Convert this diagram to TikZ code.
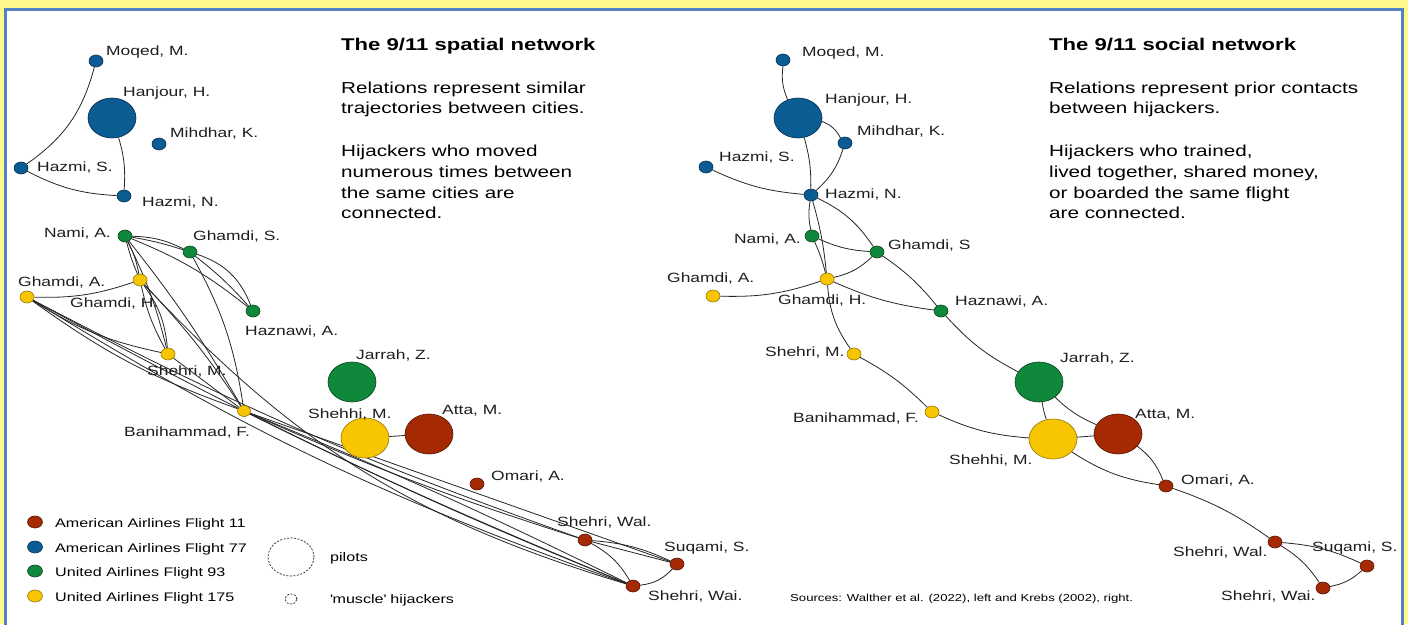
\documentclass[tikz,border=0pt]{standalone}
\usepackage{fontspec}
\setmainfont{Liberation Sans}[FakeStretch=1.3]
\usetikzlibrary{shapes.geometric,backgrounds}

\definecolor{paper}{RGB}{255,249,140}
\definecolor{frame}{RGB}{84,128,196}
\definecolor{aa11}{RGB}{165,42,4}
\definecolor{aa77}{RGB}{12,92,148}
\definecolor{ua93}{RGB}{16,136,60}
\definecolor{ua175}{RGB}{247,198,0}
\definecolor{ink}{RGB}{30,30,30}

\newcommand\lblfont{\fontsize{13.4}{16}\selectfont}
\newcommand\bodyfont{\fontsize{15.9}{19}\selectfont}
\newcommand\headfont{\fontsize{17}{20}\selectfont\bfseries}
\newcommand\keyfont{\fontsize{12.4}{15}\selectfont}
\newcommand\srcfont{\fontsize{10.1}{12}\selectfont}

\tikzset{
  hj/.style={ellipse, minimum width=14pt, minimum height=12pt, inner sep=0pt, line width=0.6pt},
  pilot/.style={hj, minimum width=48pt, minimum height=40pt},
  f11/.style={fill=aa11, draw=aa11!50!black},
  f77/.style={fill=aa77, draw=aa77!50!black},
  f93/.style={fill=ua93, draw=ua93!50!black},
  f175/.style={fill=ua175, draw=ua175!60!black},
  lbl/.style={anchor=base west, inner sep=0pt, font=\lblfont, text=ink},
  lblr/.style={lbl, anchor=base east},
  txt/.style={anchor=base west, inner sep=0pt, font=\bodyfont, text=black},
  head/.style={anchor=base west, inner sep=0pt, font=\headfont, text=black},
  key/.style={anchor=base west, inner sep=0pt, font=\keyfont, text=black},
  edge/.style={line width=0.8pt, draw=black!85},
  keyring/.style={ellipse, inner sep=0pt, draw=black!85, dash pattern=on 2pt off 1.5pt, line width=0.7pt},
}

\begin{document}
\begin{tikzpicture}[x=1pt,y=-1pt]
\useasboundingbox (0,0) rectangle (1408,624);

% ---------- spatial network (left) ----------
\node[hj,f77]    (Lmoq)   at (96,61)   {};
\node[pilot,f77] (Lhan)   at (112,118) {};
\node[hj,f77]    (Lmih)   at (159,144) {};
\node[hj,f77]    (LhazS)  at (21,168)  {};
\node[hj,f77]    (LhazN)  at (124,196) {};
\node[hj,f93]    (Lnami)  at (125,236) {};
\node[hj,f93]    (LghS)   at (190,252) {};
\node[hj,f93]    (Lhaz)   at (253,311) {};
\node[hj,f175]   (LghA)   at (27,297)  {};
\node[hj,f175]   (LghH)   at (140,280) {};
\node[hj,f175]   (LshM)   at (168,354) {};
\node[hj,f175,minimum width=13pt,minimum height=11pt] (Lban) at (244,411) {};
\node[pilot,f93] (Ljar)   at (352,382) {};
\node[pilot,f175] (Lshe)  at (365,438) {};
\node[pilot,f11] (Latta)  at (429,434) {};
\node[hj,f11]    (Lomari) at (477,484) {};
\node[hj,f11]    (LwalA)  at (585,540) {};
\node[hj,f11]    (Lsuq)   at (677,564) {};
\node[hj,f11]    (LwalB)  at (633,586) {};

\node[lbl]  (tLmoq)   at (106,55)  {Moqed, M.};
\node[lbl]  (tLhan)   at (123,96)  {Hanjour, H.};
\node[lbl]  (tLmih)   at (170,137) {Mihdhar, K.};
\node[lbl]  (tLhazS)  at (37,171)  {Hazmi, S.};
\node[lbl]  (tLhazN)  at (142,206) {Hazmi, N.};
\node[lblr] (tLnami)  at (111,237) {Nami, A.};
\node[lbl]  (tLghS)   at (193,240) {Ghamdi, S.};
\node[lbl]  (tLghA)   at (18,286)  {Ghamdi, A.};
\node[lbl]  (tLghH)   at (70,307)  {Ghamdi, H.};
\node[lbl]  (tLhaz)   at (245,335) {Haznawi, A.};
\node[lbl]  (tLshM)   at (147,375) {Shehri, M.};
\node[lbl]  (tLban)   at (124,436) {Banihammad, F.};
\node[lbl]  (tLjar)   at (356,359) {Jarrah, Z.};
\node[lbl]  (tLshe)   at (308,418) {Shehhi, M.};
\node[lbl]  (tLatta)  at (442,414) {Atta, M.};
\node[lbl]  (tLomari) at (491,480) {Omari, A.};
\node[lbl]  (tLwalA)  at (557,526) {Shehri, Wal.};
\node[lbl]  (tLsuq)   at (664,551) {Suqami, S.};
\node[lbl]  (tLwalB)  at (648,600) {Shehri, Wai.};

% ---------- social network (right) ----------
\node[hj,f77]    (Rmoq)   at (783,60)   {};
\node[pilot,f77] (Rhan)   at (798,118)  {};
\node[hj,f77]    (Rmih)   at (845,143)  {};
\node[hj,f77]    (RhazS)  at (706,167)  {};
\node[hj,f77]    (RhazN)  at (811,195)  {};
\node[hj,f93]    (Rnami)  at (812,236)  {};
\node[hj,f93]    (RghS)   at (877,252)  {};
\node[hj,f175]   (RghA)   at (713,296)  {};
\node[hj,f175]   (RghH)   at (827,279)  {};
\node[hj,f93]    (Rhaz)   at (941,311)  {};
\node[hj,f175]   (RshM)   at (854,354)  {};
\node[hj,f175]   (Rban)   at (932,412)  {};
\node[pilot,f93] (Rjar)   at (1039,382) {};
\node[pilot,f175] (Rshe)  at (1053,439) {};
\node[pilot,f11] (Ratta)  at (1118,434) {};
\node[hj,f11]    (Romari) at (1166,486) {};
\node[hj,f11]    (RwalA)  at (1275,542) {};
\node[hj,f11]    (Rsuq)   at (1367,566) {};
\node[hj,f11]    (RwalB)  at (1323,588) {};

\node[lbl]  (tRmoq)   at (802,56)   {Moqed, M.};
\node[lbl]  (tRhan)   at (825,103)  {Hanjour, H.};
\node[lbl]  (tRmih)   at (857,135)  {Mihdhar, K.};
\node[lbl]  (tRhazS)  at (719,161)  {Hazmi, S.};
\node[lbl]  (tRhazN)  at (825,198)  {Hazmi, N.};
\node[lblr] (tRnami)  at (801,243)  {Nami, A.};
\node[lbl]  (tRghS)   at (888,249)  {Ghamdi, S};
\node[lbl]  (tRghA)   at (667,282)  {Ghamdi, A.};
\node[lbl]  (tRghH)   at (778,304)  {Ghamdi, H.};
\node[lbl]  (tRhaz)   at (955,305)  {Haznawi, A.};
\node[lbl]  (tRshM)   at (765,356)  {Shehri, M.};
\node[lbl]  (tRban)   at (793,422)  {Banihammad, F.};
\node[lbl]  (tRjar)   at (1060,362) {Jarrah, Z.};
\node[lbl]  (tRshe)   at (949,464)  {Shehhi, M.};
\node[lbl]  (tRatta)  at (1135,418) {Atta, M.};
\node[lbl]  (tRomari) at (1181,484) {Omari, A.};
\node[lbl]  (tRwalA)  at (1173,556) {Shehri, Wal.};
\node[lbl]  (tRsuq)   at (1312,551) {Suqami, S.};
\node[lbl]  (tRwalB)  at (1221,600) {Shehri, Wai.};

% ---------- headings and notes ----------
\node[head] (hL)  at (341,50)  {The 9/11 spatial network};
\node[txt]  (hL1) at (341,93)  {Relations represent similar};
\node[txt]  (hL2) at (341,113) {trajectories between cities.};
\node[txt]  (hL3) at (341,156) {Hijackers who moved};
\node[txt]  (hL4) at (341,177) {numerous times between};
\node[txt]  (hL5) at (341,198) {the same cities are};
\node[txt]  (hL6) at (341,218) {connected.};

\node[head] (hR)  at (1049,50)  {The 9/11 social network};
\node[txt]  (hR1) at (1049,93)  {Relations represent prior contacts};
\node[txt]  (hR2) at (1049,113) {between hijackers.};
\node[txt]  (hR3) at (1049,156) {Hijackers who trained,};
\node[txt]  (hR4) at (1049,177) {lived together, shared money,};
\node[txt]  (hR5) at (1049,198) {or boarded the same flight};
\node[txt]  (hR6) at (1049,218) {are connected.};

\node[anchor=base west, inner sep=0pt, font=\srcfont] (src) at (790,601)
  {Sources: Walther et al. (2022), left and Krebs (2002), right.};

% ---------- legend ----------
\node[hj,f11,minimum width=15pt]  (k11)  at (35,522) {};
\node[hj,f77,minimum width=15pt]  (k77)  at (35,547) {};
\node[hj,f93,minimum width=15pt]  (k93)  at (35,571) {};
\node[hj,f175,minimum width=15pt] (k175) at (35,596) {};
\node[key] (tk11)  at (55,527) {American Airlines Flight 11};
\node[key] (tk77)  at (55,552) {American Airlines Flight 77};
\node[key] (tk93)  at (55,576) {United Airlines Flight 93};
\node[key] (tk175) at (55,601) {United Airlines Flight 175};
\node[keyring, minimum width=46pt, minimum height=38pt] (kpil) at (291,557) {};
\node[keyring, minimum width=12pt, minimum height=10pt] (kmus) at (291,599) {};
\node[key] (tkpil) at (330,561) {pilots};
\node[key] (tkmus) at (330,603) {\textquotesingle muscle\textquotesingle{} hijackers};

\begin{pgfonlayer}{background}
  % page and frame
  \fill[paper] (0,0) rectangle (1408,624);
  \draw[frame, fill=white, line width=3pt] (5.5,9.5) rectangle (1402.5,640);

  % spatial links
  \draw[edge] (Lmoq) to[bend left=20] (LhazS);
  \draw[edge] (LhazS) to[bend right=12] (LhazN);
  \draw[edge] (Lhan) to[bend left=10] (LhazN);
  \draw[edge] (Lnami) to[bend left=12] (LghS);
  \draw[edge] (Lnami) to[bend left=4] (LghS);
  \draw[edge] (Lnami) to[bend left=8] (Lhaz);
  \draw[edge] (LghS) to[bend left=25] (Lhaz);
  \draw[edge] (LghS) to[bend left=5] (Lhaz);
  \draw[edge] (LghS) to[bend left=10] (Lban);
  \draw[edge] (Lnami) to[bend left=8] (LghH);
  \draw[edge] (Lnami) to[bend right=4] (LghH);
  \draw[edge] (Lnami) to[bend left=6] (LshM);
  \draw[edge] (Lnami) to[bend left=4] (Lban);
  \draw[edge] (LghA) to[bend right=10] (LghH);
  \draw[edge] (LghA) to[bend right=10] (LshM);
  \draw[edge] (LghA) to[bend right=8] (Lban);
  \draw[edge] (LghA) to[bend right=6] (LwalB);
  \draw[edge] (LghA) to[bend right=3] (LwalB);
  \draw[edge] (LghA) to[bend right=4] (LwalA);
  \draw[edge] (LghH) to[bend left=15] (LshM);
  \draw[edge] (LghH) to[bend right=8] (LshM);
  \draw[edge] (LghH) to[bend left=5] (Lban);
  \draw[edge] (LghH) to[bend right=15] (LwalB);
  \draw[edge] (LshM) to (Lban);
  \draw[edge] (Lban) to[bend right=3] (LwalA);
  \draw[edge] (Lban) to[bend left=2] (LwalB);
  \draw[edge] (Lban) to[bend right=2] (LwalB);
  \draw[edge] (Lban) to (Lsuq);
  \draw[edge] (LwalA) to[bend left=10] (Lsuq);
  \draw[edge] (LwalA) to (Lsuq);
  \draw[edge] (LwalA) to[bend left=15] (LwalB);
  \draw[edge] (Lsuq) to[bend left=20] (LwalB);
  \draw[edge] (Lshe) to (Latta);

  % social links
  \draw[edge] (Rmoq) to[bend right=15] (Rhan);
  \draw[edge] (Rhan) to[bend left=20] (Rmih);
  \draw[edge] (Rhan) to[bend left=8] (RhazN);
  \draw[edge] (Rmih) to[bend left=15] (RhazN);
  \draw[edge] (RhazS) to[bend right=10] (RhazN);
  \draw[edge] (RhazN) to[bend right=10] (Rnami);
  \draw[edge] (RhazN) to[bend left=5] (RghH);
  \draw[edge] (RhazN) to[bend left=15] (RghS);
  \draw[edge] (Rnami) to[bend right=10] (RghS);
  \draw[edge] (Rnami) to[bend left=5] (RghH);
  \draw[edge] (RghS) to[bend left=15] (RghH);
  \draw[edge] (RghA) to[bend right=10] (RghH);
  \draw[edge] (RghH) to[bend right=8] (Rhaz);
  \draw[edge] (RghS) to[bend left=8] (Rhaz);
  \draw[edge] (RghH) to[bend right=15] (RshM);
  \draw[edge] (RshM) to[bend left=8] (Rban);
  \draw[edge] (Rban) to[bend right=10] (Rshe);
  \draw[edge] (Rhaz) to[bend right=10] (Rjar);
  \draw[edge] (Rjar) to[bend right=5] (Rshe);
  \draw[edge] (Rjar) to[bend right=10] (Ratta);
  \draw[edge] (Rshe) to (Ratta);
  \draw[edge] (Rshe) to[bend right=12] (Romari);
  \draw[edge] (Ratta) to[bend left=15] (Romari);
  \draw[edge] (Romari) to[bend left=8] (RwalA);
  \draw[edge] (RwalA) to[bend left=10] (Rsuq);
  \draw[edge] (RwalA) to[bend left=12] (RwalB);
  \draw[edge] (Rsuq) to[bend left=15] (RwalB);
\end{pgfonlayer}
\end{tikzpicture}
\end{document}
